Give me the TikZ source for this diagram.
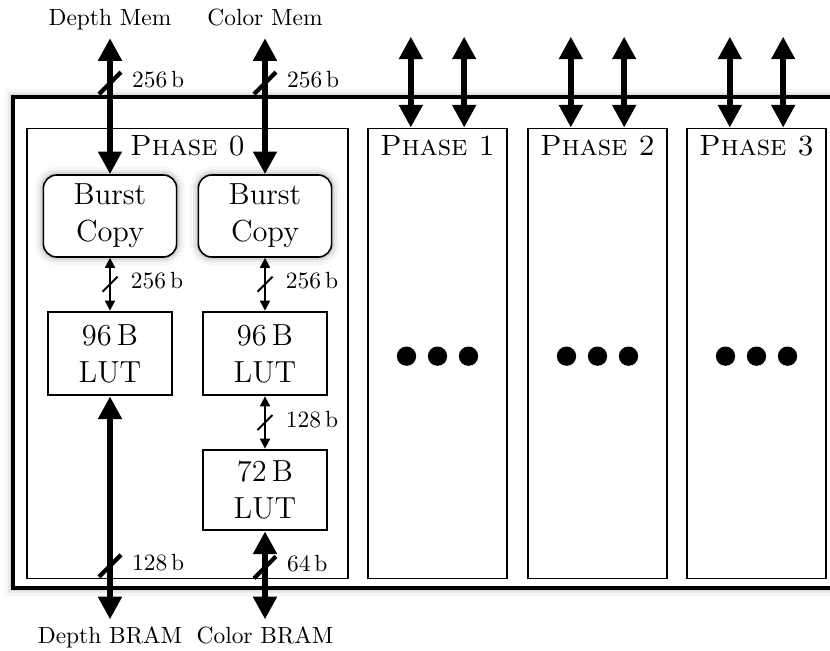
\documentclass[tikz,border=0pt]{standalone}
\usetikzlibrary{arrows.meta}

\tikzset{
  glow/.style={preaction={draw=black, opacity=.03, line width=7pt},
               preaction={draw=black, opacity=.05, line width=4.5pt},
               preaction={draw=black, opacity=.08, line width=2.5pt}},
  frame/.style={draw, line width=1.3pt, fill=white, glow},
  phase/.style={draw, line width=.5pt, minimum width=#1, minimum height=6.76cm, inner sep=0pt},
  phasename/.style={below, inner sep=3.3pt, font=\fontsize{12.5}{15}\selectfont\scshape},
  burst/.style={draw, line width=.7pt, fill=white, rounded corners=.2cm, minimum width=2cm,
    minimum height=1.23cm, align=center, font=\fontsize{13}{15.8}\selectfont, glow},
  lut/.style={draw, line width=1.15pt, minimum width=1.86cm, minimum height=#1, align=center,
    font=\fontsize{13}{15.8}\selectfont},
  mem/.style={text height=1.6ex, text depth=.45ex},
  bigbus/.style={{Triangle[length=3.4mm,width=3.4mm]}-{Triangle[length=3.4mm,width=3.4mm]}, line width=2.5pt},
  bus/.style={{Triangle[length=1.5mm,width=1.5mm]}-{Triangle[length=1.5mm,width=1.5mm]}, line width=.7pt},
  bigslash/.style={line width=1.8pt},
  slash/.style={line width=.85pt},
  bits/.style={anchor=west, inner sep=0pt, xshift=3mm, yshift=.5mm},
}

\begin{document}
\begin{tikzpicture}[x=.15mm, y=-.15mm]
  \clip (0,0) rectangle (830,650);

  % chip outline, runs off the right side
  \draw[frame] (13,97) rectangle (880,588);

  % the four phases
  \node[phase=4.815cm] (p0) at (187.5,353.5) {};
  \node[phase=2.085cm] (p1) at (437.5,353.5) {};
  \node[phase=2.085cm] (p2) at (597.5,353.5) {};
  \node[phase=2.085cm] (p3) at (756.5,353.5) {};
  \foreach \i in {0,...,3}
    \node[phasename] at (p\i.north) {Phase \i};

  % phase 0 blocks
  \node[burst] (dcopy) at (110,216) {Burst\\Copy};
  \node[burst] (ccopy) at (265,216) {Burst\\Copy};
  \node[lut=1.245cm] (dlut) at (110,353.5) {96\,B\\LUT};
  \node[lut=1.245cm] (clut) at (265,353.5) {96\,B\\LUT};
  \node[lut=1.2cm] (clut2) at (265,490) {72\,B\\LUT};

  % memories
  \node[mem] (dmem) at (110,19.5) {Depth Mem};
  \node[mem] (cmem) at (265,19.5) {Color Mem};
  \node[mem] (dbram) at (110,638) {Depth BRAM};
  \node[mem] (cbram) at (265,638) {Color BRAM};

  % wide buses
  \draw[bigbus] (dmem) -- coordinate[pos=.33] (ds1) (dcopy);
  \draw[bigbus] (cmem) -- coordinate[pos=.33] (cs1) (ccopy);
  \draw[bigbus] (dlut) -- coordinate[pos=.76] (ds3) (dbram);
  \draw[bigbus] (clut2) -- coordinate[pos=.41] (cs3) (cbram);
  \draw[bigslash] (ds1) node[bits] {256\,b} ++(-11,11) -- ++(22,-22);
  \draw[bigslash] (cs1) node[bits] {256\,b} ++(-11,11) -- ++(22,-22);
  \draw[bigslash] (ds3) node[bits] {128\,b} ++(-11,11) -- ++(22,-22);
  \draw[bigslash] (cs3) node[bits] {64\,b} ++(-11,11) -- ++(22,-22);

  % internal buses
  \draw[bus] (dcopy) -- coordinate (ds2) (dlut);
  \draw[bus] (ccopy) -- coordinate (cs2) (clut);
  \draw[bus] (clut) -- coordinate (cs4) (clut2);
  \draw[slash] (ds2) node[bits] {256\,b} ++(-7.5,7.5) -- ++(15,-15);
  \draw[slash] (cs2) node[bits] {256\,b} ++(-7.5,7.5) -- ++(15,-15);
  \draw[slash] (cs4) node[bits] {128\,b} ++(-7.5,7.5) -- ++(15,-15);

  % other phases: same ports, contents elided
  \foreach \i in {1,2,3} {
    \foreach \dx/\s in {-4mm/a, 4mm/b} {
      \coordinate (io\i\s) at ([xshift=\dx, yshift=13.65mm]p\i.north);
      \draw[bigbus] (io\i\s) -- (p\i.north -| io\i\s);
    }
    \foreach \dx in {-4.65mm, 0mm, 4.65mm}
      \fill ([xshift=\dx, yshift=-.4mm]p\i.center) circle (1.45mm);
  }
\end{tikzpicture}
\end{document}
